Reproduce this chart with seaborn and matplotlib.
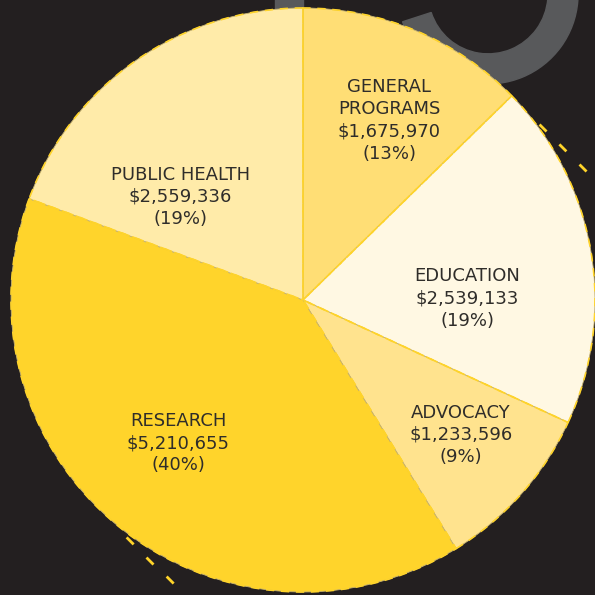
import matplotlib
matplotlib.use("Agg")
import matplotlib.pyplot as plt
import seaborn as sns
from matplotlib.patches import Wedge, Rectangle

# DATA
categories = ["GENERAL\nPROGRAMS", "EDUCATION", "ADVOCACY", "RESEARCH", "PUBLIC HEALTH"]
amounts = [1675970, 2539133, 1233596, 5210655, 2559336]
shown_pct = [13, 19, 9, 40, 19]

# STYLE
BG = "#231f20"
GRAY = "#58595b"
DASH_YELLOW = "#ffd42a"
slice_colors = sns.color_palette(["#ffde75", "#fff8e3", "#ffe38e", "#ffd42b", "#ffeba9"])
# where each label block sits (data units, pie radius = 1)
LABEL_XY = [(0.295, 0.615), (0.562, 0.005), (0.541, -0.462), (-0.428, -0.490), (-0.421, 0.353)]

sns.set_style("dark")
plt.rcParams["font.family"] = ["DejaVu Sans"]

fig = plt.figure(figsize=(5.95, 5.95), dpi=100, facecolor=BG)
ax = fig.add_axes([0, 0, 1, 1])
ax.set_facecolor(BG)

# background decoration: grey "C" arc and block at top
ax.add_patch(Wedge((0.634, 1.048), 0.308, -162, 90, width=0.103, color=GRAY, zorder=0))
ax.add_patch(Rectangle((-0.096, 0.95), 0.096, 0.1, color=GRAY, zorder=0))

labels = [f"{c}\n${a:,}\n({p}%)" for c, a, p in zip(categories, amounts, shown_pct)]

wedges, texts = ax.pie(
    amounts, labels=labels, colors=slice_colors, startangle=90, counterclock=False,
    radius=1, labeldistance=0.6,
    wedgeprops=dict(edgecolor="#c9b46e", linewidth=0.6),
    textprops=dict(fontsize=13, color="#2f2d2a", ha="center", va="center", linespacing=1.3),
)
for t, xy in zip(texts, LABEL_XY):
    t.set_position(xy)
    t.set_ha("center")
    t.set_va("center")

# dashed yellow outlines on top
ax.pie(amounts, startangle=90, counterclock=False, radius=1,
       wedgeprops=dict(fill=False, edgecolor=DASH_YELLOW, linewidth=1.2, linestyle=(0, (5, 4))))

# little dash decorations outside the pie
for cx, cy in [(0.822, 0.589), (0.890, 0.521), (0.959, 0.452),
               (-0.592, -0.825), (-0.524, -0.894), (-0.455, -0.959)]:
    d = 0.012
    ax.plot([cx - d, cx + d], [cy + d, cy - d], color=DASH_YELLOW, lw=2, solid_capstyle="butt", zorder=0)

ax.set_xlim(-303 / 292, (595 - 303) / 292)
ax.set_ylim(-(595 - 300) / 292, 300 / 292)
ax.set_aspect("equal")
ax.axis("off")

fig.savefig("out.png", dpi=100, facecolor=BG)
